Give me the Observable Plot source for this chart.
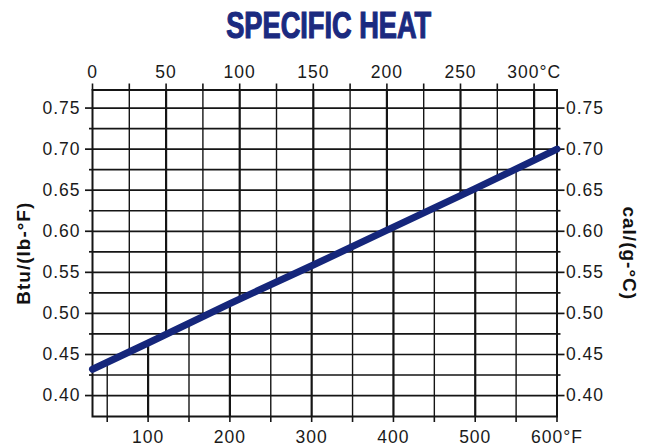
<!DOCTYPE html>
<html>
<head>
<meta charset="utf-8">
<script src="https://cdn.jsdelivr.net/npm/d3@7"></script>
<script src="https://cdn.jsdelivr.net/npm/@observablehq/plot@0.6"></script>
<style>
  html, body { margin: 0; padding: 0; background: #fff; }
  #wrap { width: 647px; height: 447px; overflow: hidden; }
  #title { width: 647px; height: 52px; box-sizing: border-box; padding-top: 8px; text-align: center; }
  #title span {
    display: inline-block;
    font-family: "Liberation Sans", Arial, sans-serif;
    font-weight: bold; font-size: 36px; line-height: 1;
    color: #1b2a80; -webkit-text-stroke: 1.2px #1b2a80;
    transform: translateX(5px) scaleX(0.755);
  }
  svg { display: block; }
</style>
</head>
<body>
<div id="wrap">
  <div id="title"><span>SPECIFIC HEAT</span></div>
  <div id="chart"></div>
</div>
<script>
// ---- data ----
const fahrenheit = [32, 100, 200, 300, 400, 500, 600];
const specificHeat = [0.432, 0.464, 0.512, 0.558, 0.605, 0.652, 0.700];

// top axis (°C) ticks and labels
const celsiusTicks = [0, 25, 50, 75, 100, 125, 150, 175, 200, 225, 250, 275, 300];
const celsiusLabels = ["0", "", "50", "", "100", "", "150", "", "200", "", "250", "", "300°C"];
// bottom axis (°F) ticks and labels
const fahrenheitTicks = [50, 100, 150, 200, 250, 300, 350, 400, 450, 500, 550, 600];
const fahrenheitLabels = ["", "100", "", "200", "", "300", "", "400", "", "500", "", "600°F"];
// y axis ticks
const heatTicks = [0.40, 0.45, 0.50, 0.55, 0.60, 0.65, 0.70, 0.75];
const heatMinorTicks = [0.425, 0.475, 0.525, 0.575, 0.625, 0.675, 0.725];
const yDomain = [0.3745, 0.772];
const xDomain = [32, 600];
const leftLabel = "Btu/(lb-°F)";
const rightLabel = "cal/(g-°C)";

// ---- derived ----
const points = fahrenheit.map((f, i) => ({f, v: specificHeat[i]}));
const curve = d3.scaleLinear().domain(fahrenheit).range(specificHeat);
const cToF = c => 32 + 1.8 * c;
const celsiusF = celsiusTicks.map(cToF);

// vertical °C grid lines: from the curve up to the top frame
const cGrid = celsiusTicks.filter(c => c > 0).map(c => ({f: cToF(c), lo: curve(cToF(c)), hi: yDomain[1], major: c % 50 === 0}));
// vertical °F grid lines: from bottom frame up to the curve
const fGrid = fahrenheitTicks.filter(f => f < 600).map(f => ({f, lo: yDomain[0], hi: curve(f), major: f % 100 === 0}));

const ink = "#151515";
const navy = "#15267b";

const chart = Plot.plot({
  width: 647,
  height: 395,
  marginTop: 37.5,
  marginBottom: 31,
  marginLeft: 92,
  marginRight: 90.5,
  style: {fontFamily: "'Liberation Sans', Arial, Helvetica, sans-serif", fontSize: "17.5px", letterSpacing: "1px", color: "#1a1a1a", background: "#fff"},
  x: {domain: xDomain, axis: null},
  y: {domain: yDomain, axis: null},
  marks: [
    // horizontal grid
    Plot.ruleY(heatTicks.concat(heatMinorTicks), {stroke: ink, strokeWidth: 1.7}),
    // °C verticals above curve
    Plot.ruleX(cGrid.filter(d => d.major), {x: "f", y1: "lo", y2: "hi", stroke: ink, strokeWidth: 2.2}),
    Plot.ruleX(cGrid.filter(d => !d.major), {x: "f", y1: "lo", y2: "hi", stroke: ink, strokeWidth: 1.4}),
    // °F verticals below curve
    Plot.ruleX(fGrid.filter(d => d.major), {x: "f", y1: "lo", y2: "hi", stroke: ink, strokeWidth: 2.2}),
    Plot.ruleX(fGrid.filter(d => !d.major), {x: "f", y1: "lo", y2: "hi", stroke: ink, strokeWidth: 1.4}),
    Plot.frame({stroke: ink, strokeWidth: 2}),
    // top axis (°C)
    Plot.axisX({anchor: "top", ticks: celsiusF, tickSize: 7, tickPadding: 5, tickFormat: d => celsiusLabels[celsiusF.indexOf(d)], strokeWidth: 1.6, stroke: ink, label: null, fontSize: 17.5}),
    // bottom axis (°F)
    Plot.axisX({anchor: "bottom", ticks: fahrenheitTicks, tickSize: 6, tickPadding: 8, tickFormat: d => fahrenheitLabels[fahrenheitTicks.indexOf(d)], strokeWidth: 1.6, stroke: ink, label: null, fontSize: 17.5}),
    // left / right axes
    Plot.axisY({anchor: "left", ticks: heatTicks, tickSize: 7, tickPadding: 5, tickFormat: d3.format(".2f"), strokeWidth: 1.7, stroke: ink, label: null, fontSize: 17.5}),
    Plot.axisY({anchor: "right", ticks: heatTicks, tickSize: 7, tickPadding: 2, tickFormat: d3.format(".2f"), strokeWidth: 1.7, stroke: ink, label: null, fontSize: 17.5}),
    Plot.axisY({anchor: "left", ticks: heatMinorTicks, tickSize: 3, tickFormat: () => "", strokeWidth: 1.7, stroke: ink, label: null}),
    Plot.axisY({anchor: "right", ticks: heatMinorTicks, tickSize: 3, tickFormat: () => "", strokeWidth: 1.7, stroke: ink, label: null}),
    // axis titles
    Plot.text([leftLabel], {text: d => d, frameAnchor: "left", textAnchor: "middle", rotate: -90, dx: -69, fontWeight: "bold", fontSize: 19, fill: "#111"}),
    Plot.text([rightLabel], {text: d => d, frameAnchor: "right", textAnchor: "middle", rotate: 90, dx: 72, fontWeight: "bold", fontSize: 19, fill: "#111"}),
    // data line
    Plot.line(points, {x: "f", y: "v", stroke: navy, strokeWidth: 7, strokeLinecap: "round"})
  ]
});
document.getElementById("chart").appendChild(chart);
</script>
</body>
</html>
